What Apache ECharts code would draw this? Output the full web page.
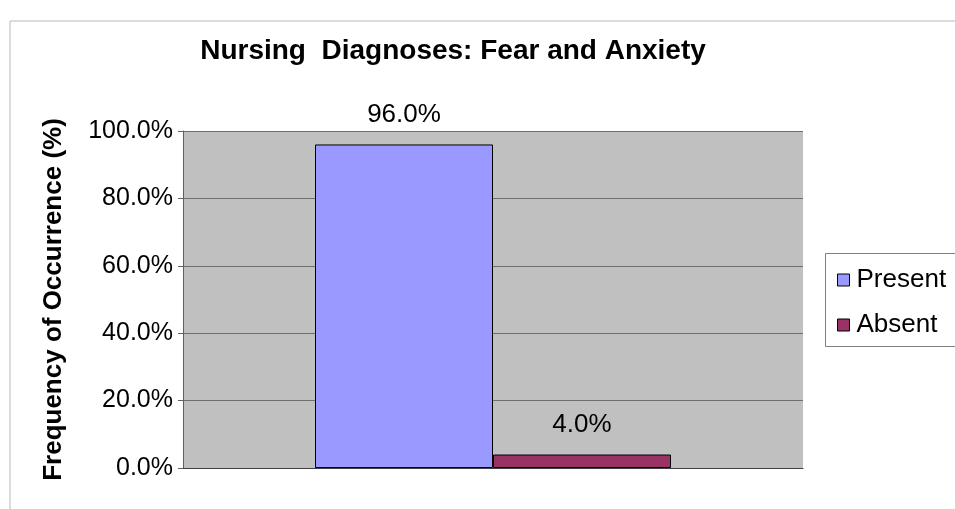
<!DOCTYPE html>
<html>
<head>
<meta charset="utf-8">
<script src="https://cdn.jsdelivr.net/npm/echarts@6/dist/echarts.min.js"></script>
<style>
  html, body { margin: 0; padding: 0; background: #fff; }
  #chart { width: 955px; height: 509px; }
</style>
</head>
<body>
<div id="chart"></div>
<script>
// data
var categories = [""];
var seriesNames = ["Present", "Absent"];
var presentValues = [96.0];
var absentValues = [4.0];
var yTicks = [0, 20, 40, 60, 80, 100];

var chart = echarts.init(document.getElementById("chart"));

var labelStyle = {
  show: true,
  position: "top",
  distance: 17,
  fontFamily: "Liberation Sans, Arial, sans-serif",
  fontSize: 26,
  color: "#000",
  formatter: function (p) { return p.value.toFixed(1) + "%"; }
};

chart.setOption({
  animation: false,
  title: {
    text: "Nursing  Diagnoses: Fear and Anxiety",
    left: 448,
    textAlign: "center",
    top: 32,
    textStyle: {
      fontFamily: "Liberation Sans, Arial, sans-serif",
      fontSize: 28,
      fontWeight: "bold",
      color: "#000"
    }
  },
  graphic: [
    // outer chart frame (left + top edges)
    {
      type: "rect",
      shape: { x: 10, y: 21, width: 1000, height: 600 },
      style: { fill: "none", stroke: "#b8b8b8", lineWidth: 1 },
      silent: true
    },
    // legend box
    {
      type: "rect",
      shape: { x: 825.5, y: 253.5, width: 200, height: 93 },
      style: { fill: "#fff", stroke: "#808080", lineWidth: 1 },
      silent: true,
      z: 0
    }
  ],
  legend: {
    orient: "vertical",
    left: 832,
    top: 262,
    itemWidth: 12,
    itemHeight: 12,
    itemGap: 19,
    icon: "rect",
    z: 10,
    itemStyle: { borderColor: "#000", borderWidth: 1 },
    textStyle: {
      fontFamily: "Liberation Sans, Arial, sans-serif",
      fontSize: 26,
      color: "#000",
      padding: [0, 0, 0, 2]
    },
    data: seriesNames
  },
  grid: {
    left: 183,
    top: 131,
    right: 152,
    bottom: 41,
    show: true,
    backgroundColor: "#c0c0c0",
    borderWidth: 0
  },
  xAxis: {
    type: "category",
    data: categories,
    axisLine: { show: true, lineStyle: { color: "#404040", width: 1 } },
    axisTick: { show: false },
    axisLabel: { show: false }
  },
  yAxis: {
    type: "value",
    min: yTicks[0],
    max: yTicks[yTicks.length - 1],
    interval: 20,
    name: "Frequency of Occurrence (%)",
    nameLocation: "middle",
    nameGap: 116,
    nameTextStyle: {
      fontFamily: "Liberation Sans, Arial, sans-serif",
      fontSize: 26,
      fontWeight: "bold",
      color: "#000"
    },
    axisLine: { show: true, lineStyle: { color: "#606060", width: 1 } },
    axisTick: { show: true, inside: false, length: 5, lineStyle: { color: "#606060" } },
    axisLabel: {
      fontFamily: "Liberation Sans, Arial, sans-serif",
      fontSize: 25,
      color: "#000",
      margin: 10,
      formatter: function (v) { return v.toFixed(1) + "%"; }
    },
    splitLine: { show: true, lineStyle: { color: "#6e6e6e", width: 1 } }
  },
  series: [
    {
      name: seriesNames[0],
      type: "bar",
      data: presentValues,
      barWidth: 178,
      barGap: "0%",
      itemStyle: { color: "#9999ff", borderColor: "#000", borderWidth: 1 },
      label: labelStyle
    },
    {
      name: seriesNames[1],
      type: "bar",
      data: absentValues,
      barWidth: 178,
      barGap: "0%",
      itemStyle: { color: "#993366", borderColor: "#000", borderWidth: 1 },
      label: labelStyle
    }
  ]
});
</script>
</body>
</html>
